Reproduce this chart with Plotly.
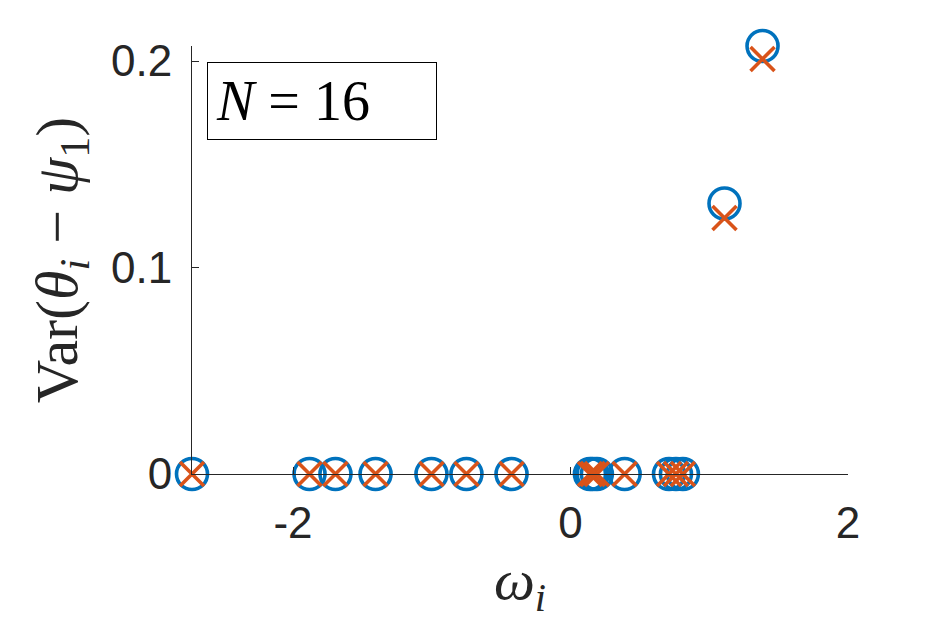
import plotly.graph_objects as go

# omega_i values and the two variance estimates (circles / crosses)
omega = [-2.728, -1.881, -1.694, -1.405, -1.002, -0.750, -0.425,
         0.14, 0.16, 0.19, 0.39, 0.71, 0.76, 0.81, 1.11, 1.384]
var_circle = [0, 0, 0, 0, 0, 0, 0, 0, 0, 0, 0, 0, 0, 0, 0.131, 0.2073]
var_cross = [0, 0, 0, 0, 0, 0, 0, 0, 0, 0, 0, 0, 0, 0, 0.124, 0.201]

y_ticks = [0, 0.1, 0.2]
y_ticktext = ["0", "0.1", "0.2"]
x_ticks = [-2, 0, 2]
x_ticktext = ["-2", "0", "2"]

ink = "#262626"
serif = "Liberation Serif"
sans = "Liberation Sans"

fig = go.Figure()
fig.add_trace(go.Scatter(
    x=omega, y=var_circle, mode="markers", cliponaxis=False,
    marker=dict(symbol="circle-open", size=31, color="#0072BD",
                line=dict(width=3.6, color="#0072BD")),
    showlegend=False))
fig.add_trace(go.Scatter(
    x=omega, y=var_cross, mode="markers", cliponaxis=False,
    marker=dict(symbol="x-thin-open", size=24, color="#D95319",
                line=dict(width=3.6, color="#D95319")),
    showlegend=False))

fig.add_annotation(
    xref="paper", yref="paper", x=0.023, y=0.962, xanchor="left", yanchor="top",
    text="<i>N</i> = 16", showarrow=False,
    font=dict(family=serif, size=56, color="black"),
    bordercolor="black", borderwidth=1, borderpad=8, bgcolor="white",
    width=212, height=60, align="left")

fig.update_layout(
    width=938, height=625,
    margin=dict(l=184, r=98, t=38, b=159),
    paper_bgcolor="white", plot_bgcolor="white",
    xaxis=dict(range=[-2.728, 2], tickvals=x_ticks, ticktext=x_ticktext,
               ticks="inside", ticklen=7, tickcolor=ink, tickwidth=1,
               showline=True, linecolor=ink, linewidth=1,
               showgrid=False, zeroline=False, ticklabelstandoff=10,
               tickfont=dict(family=sans, size=44, color=ink),
               title=dict(text="<i>ω</i><sub><i>i</i></sub>",
                          font=dict(family=serif, size=58, color=ink),
                          standoff=12)),
    yaxis=dict(range=[0, 0.2073], tickvals=y_ticks, ticktext=y_ticktext,
               ticks="inside", ticklen=7, tickcolor=ink, tickwidth=1,
               showline=True, linecolor=ink, linewidth=1,
               showgrid=False, zeroline=False, ticklabelstandoff=10,
               tickfont=dict(family=sans, size=44, color=ink),
               title=dict(text="Var(<i>θ</i><sub><i>i</i></sub> − <i>ψ</i><sub>1</sub>)",
                          font=dict(family=serif, size=60, color=ink),
                          standoff=14)),
)

fig.write_html("out.html")
